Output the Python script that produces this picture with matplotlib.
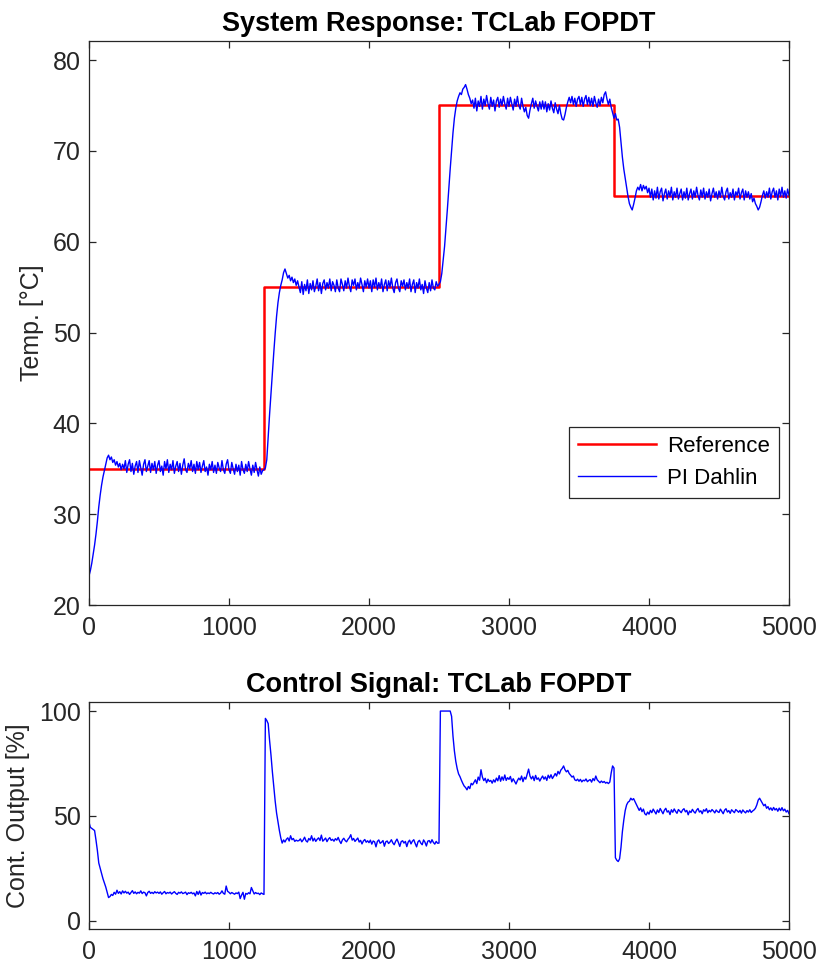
#!/usr/bin/env python3

import matplotlib as mpl
import matplotlib.pyplot as plt
import numpy as np

# setpoint steps (time [s], value [degC])
refTimes = [0, 1250, 2500, 3750, 5000]
refValues = [35, 55, 75, 65, 65]

sampleStep = 10  # seconds between samples

# measured temperature, PI Dahlin controller, one value every 10 s
temperature = [
	23.2, 23.8, 24.6, 25.6, 26.6, 27.8, 29.2, 30.8, 32.1, 33.2, 34.1, 34.8, 35.5, 36.2, 36.5, 36.0, 36.3, 35.7, 36.0, 35.4, 35.8, 35.2, 35.6, 34.9, 35.5,
	35.0, 35.9, 34.6, 35.5, 36.0, 34.7, 35.6, 34.4, 35.3, 35.8, 34.6, 35.9, 35.1, 34.3, 35.5, 36.0, 34.7, 35.3, 35.9, 34.6, 35.6, 34.9, 35.8, 34.5, 35.4,
	35.9, 34.7, 35.3, 34.3, 35.8, 35.0, 36.0, 34.6, 35.5, 34.9, 35.9, 34.5, 35.3, 35.8, 34.7, 35.6, 34.4, 35.4, 36.1, 34.9, 34.6, 35.6, 35.0, 35.9, 34.7,
	35.5, 34.5, 35.8, 34.9, 35.7, 34.6, 35.3, 35.9, 34.7, 35.2, 34.3, 35.5, 34.9, 35.8, 34.6, 35.4, 34.5, 35.7, 35.1, 34.7, 35.9, 34.9, 34.5, 35.5, 36.0,
	34.9, 34.5, 35.7, 35.0, 34.4, 35.5, 34.7, 35.4, 34.3, 35.8, 34.9, 34.5, 35.5, 34.7, 35.8, 35.0, 34.3, 35.4, 34.6, 35.7, 34.9, 34.2, 35.2, 34.4, 34.8,
	34.9, 35.1, 36.0, 38.5, 41.0, 43.3, 45.6, 47.8, 49.9, 51.8, 53.3, 54.4, 55.2, 55.8, 56.6, 57.0, 56.5, 56.0, 56.3, 55.7, 56.1, 55.5, 55.9, 55.2, 55.7,
	55.0, 54.4, 55.6, 54.2, 55.3, 54.6, 55.8, 54.3, 55.4, 54.7, 55.7, 54.5, 55.1, 55.9, 54.6, 55.5, 54.3, 55.4, 55.8, 54.7, 55.5, 54.9, 55.9, 54.6, 55.6,
	55.2, 54.5, 55.8, 54.9, 54.5, 55.9, 55.3, 54.6, 55.7, 54.9, 56.0, 55.1, 54.5, 55.8, 55.2, 55.9, 54.7, 55.5, 54.9, 56.0, 55.3, 54.5, 55.7, 55.0, 55.9,
	54.9, 55.7, 54.5, 55.8, 55.0, 56.0, 54.7, 55.5, 54.9, 55.9, 54.5, 55.3, 55.8, 54.6, 55.7, 55.0, 56.0, 54.9, 54.4, 55.5, 55.9, 54.9, 54.5, 55.7, 55.1,
	55.8, 54.7, 55.5, 54.9, 55.9, 54.5, 55.3, 55.8, 54.4, 55.5, 54.9, 55.9, 54.7, 55.3, 54.3, 55.7, 54.9, 54.4, 55.5, 54.6, 55.8, 54.9, 54.7, 55.6, 55.1,
	55.3, 55.6, 56.5, 58.0, 59.5, 61.5, 63.6, 65.8, 68.0, 70.0, 72.0, 73.6, 74.7, 75.5, 76.0, 76.4, 76.2, 76.8, 77.0, 77.3, 76.8, 76.2, 75.8, 75.2, 75.6,
	74.7, 75.8, 74.4, 75.5, 74.9, 76.0, 74.6, 75.7, 75.0, 76.1, 75.2, 74.6, 75.9, 74.9, 75.6, 74.4, 75.5, 75.9, 74.8, 75.7, 75.0, 76.0, 75.2, 74.6, 75.8,
	74.9, 75.9, 75.2, 74.5, 75.7, 74.9, 76.0, 75.0, 74.6, 75.8, 74.9, 74.3, 74.8, 73.9, 73.6, 74.5, 75.2, 75.8, 74.7, 75.5, 74.9, 74.4, 75.4, 74.6, 75.5,
	74.6, 75.4, 74.3, 75.2, 74.5, 75.5, 74.7, 74.2, 75.3, 74.6, 74.1, 75.0, 74.1, 73.5, 73.4, 74.0, 74.8, 75.4, 75.9, 75.3, 76.0, 75.1, 75.8, 74.9, 75.7,
	76.0, 75.1, 75.9, 74.9, 75.7, 76.1, 75.1, 75.9, 75.0, 75.8, 74.9, 76.0, 75.3, 74.8, 75.7, 75.0, 75.9, 75.3, 76.2, 76.5, 75.7, 75.1, 75.7, 74.8, 74.2,
	73.6, 74.1, 73.4, 73.5, 72.6, 71.0, 69.3, 68.0, 67.0, 66.0, 65.0, 64.2, 63.8, 63.5, 64.1, 64.8, 65.6, 66.0, 65.7, 66.3, 65.6, 66.2, 65.8, 66.1, 65.4,
	65.9, 64.9, 65.8, 64.6, 65.6, 64.8, 66.0, 64.7, 65.5, 65.9, 64.5, 65.3, 65.8, 64.7, 65.6, 65.0, 66.0, 64.6, 65.5, 64.9, 65.9, 64.7, 65.3, 65.8, 64.6,
	65.5, 64.8, 65.9, 64.6, 65.3, 65.8, 64.7, 65.6, 64.9, 66.0, 65.1, 64.6, 65.7, 64.9, 65.9, 64.7, 65.5, 64.9, 65.8, 64.5, 65.3, 65.9, 64.9, 65.5, 64.7,
	65.6, 64.9, 66.0, 65.0, 64.6, 65.5, 65.9, 64.7, 65.4, 64.9, 65.8, 64.6, 65.5, 65.1, 65.9, 64.7, 65.4, 65.8, 64.6, 65.6, 64.9, 65.5, 64.7, 65.3, 64.4,
	64.8, 64.2, 63.9, 63.5, 63.8, 64.4, 65.1, 65.6, 64.8, 65.5, 64.9, 65.9, 64.7, 65.5, 65.9, 64.9, 65.6, 64.6, 65.8, 65.0, 66.0, 64.9, 65.6, 64.8, 65.8,
	65.1,
]

# controller output [%], same sampling
controlOutput = [
	47.0, 44.5, 44.0, 43.5, 43.0, 38.5, 33.5, 27.5, 25.0, 22.5, 20.0, 18.0, 16.0, 13.5, 11.0, 11.5, 12.5, 12.0, 13.5, 12.6, 14.5, 13.0, 13.8, 12.7, 14.2,
	13.2, 14.0, 13.1, 13.6, 12.5, 13.4, 14.3, 13.0, 13.7, 12.8, 13.5, 13.1, 14.2, 12.9, 13.6, 13.3, 11.8, 13.4, 14.0, 13.0, 13.5, 12.9, 13.8, 13.2, 13.6,
	13.0, 13.7, 12.6, 13.3, 13.9, 12.8, 13.4, 13.1, 13.6, 12.7, 13.3, 13.8, 13.0, 12.5, 13.5, 13.1, 13.7, 12.9, 13.2, 13.6, 12.4, 13.3, 13.0, 13.5, 12.8,
	13.2, 11.8, 13.9, 12.5, 14.1, 12.2, 13.4, 13.0, 13.6, 12.8, 13.2, 12.9, 13.5, 13.0, 12.7, 13.3, 12.9, 13.4, 12.6, 13.1, 14.2, 13.0, 12.6, 16.5, 14.0,
	13.5, 12.8, 13.4, 13.0, 12.6, 13.2, 12.9, 13.6, 10.5, 12.2, 13.5, 10.2, 13.0, 12.6, 13.3, 12.8, 15.8, 14.2, 12.7, 13.4, 12.9, 13.1, 12.4, 13.2, 12.8,
	12.5, 96.5, 95.5, 94.0, 86.0, 79.0, 71.0, 64.0, 57.0, 51.3, 47.0, 43.0, 39.5, 37.0, 38.5, 37.5, 38.8, 39.5, 38.0, 40.5, 38.6, 39.2, 37.8, 38.4, 38.0,
	38.2, 39.0, 37.6, 38.5, 39.8, 38.1, 37.5, 39.2, 38.4, 40.5, 38.0, 39.3, 37.8, 38.8, 39.5, 38.2, 40.8, 37.9, 38.6, 39.4, 37.7, 38.9, 39.6, 38.3, 38.8,
	37.9, 39.1, 38.4, 39.7, 38.0, 36.8, 38.5, 39.3, 38.2, 37.6, 38.8, 39.6, 41.0, 38.4, 39.2, 37.8, 38.6, 39.4, 37.5, 38.3, 36.6, 38.0, 38.7, 37.4, 38.1,
	37.2, 38.4, 36.5, 38.0, 37.6, 35.2, 37.8, 38.5, 36.9, 37.4, 38.2, 35.5, 37.6, 38.0, 36.8, 37.5, 38.6, 37.1, 36.2, 37.8, 38.9, 37.3, 35.4, 37.7, 38.1,
	37.0, 37.8, 35.3, 37.5, 38.4, 36.6, 37.9, 38.6, 36.8, 35.2, 37.6, 38.3, 37.0, 36.2, 38.5, 37.4, 35.6, 37.9, 38.2, 37.0, 38.6, 37.3, 36.5, 37.8, 36.9,
	37.0, 100.0, 100.0, 100.0, 100.0, 100.0, 100.0, 100.0, 100.0, 97.5, 88.0, 81.0, 76.0, 72.5, 70.0, 68.7, 67.0, 65.5, 64.2, 63.5, 62.4, 64.0, 63.0, 65.5, 64.8,
	66.0, 67.2, 65.4, 68.5, 67.0, 72.0, 68.5, 66.8, 67.9, 65.8, 67.5, 66.4, 66.9, 65.6, 67.2, 66.1, 68.0, 66.7, 69.2, 66.5, 68.6, 67.0, 69.5, 66.9, 68.2,
	67.4, 68.8, 66.2, 67.7, 66.5, 65.2, 66.8, 68.0, 67.1, 69.0, 66.3, 68.4, 67.5, 70.0, 72.3, 69.0, 67.6, 68.9, 66.8, 69.3, 67.4, 68.1, 66.6, 67.9, 69.0,
	67.5, 68.6, 66.9, 69.4, 68.0, 69.6, 67.8, 68.9, 70.2, 69.0, 71.2, 70.0, 71.8, 72.6, 73.8, 72.0, 71.0, 71.7, 70.2, 69.4, 68.5, 69.0, 67.2, 66.8, 67.5,
	66.5, 67.4, 66.2, 67.0, 66.7, 67.6, 66.3, 66.9, 67.3, 66.1, 67.8, 66.8, 69.0, 67.2, 66.5, 65.8, 66.6, 65.9, 66.4, 65.6, 66.0, 65.4, 66.1, 70.5, 73.8,
	72.8, 30.0, 28.8, 28.2, 29.5, 35.0, 42.5, 48.0, 52.5, 55.2, 56.5, 57.0, 58.4, 57.6, 58.2, 56.8, 55.5, 54.0, 52.6, 53.8, 52.0, 53.2, 51.0, 50.4, 51.8,
	50.8, 52.6, 51.5, 53.2, 52.0, 50.9, 52.8, 51.6, 53.5, 52.2, 51.0, 52.7, 53.6, 51.8, 52.4, 50.6, 52.9, 51.7, 53.3, 52.1, 51.2, 53.0, 52.3, 51.5, 52.8,
	53.4, 51.9, 52.6, 50.5, 52.3, 51.6, 53.1, 52.0, 51.3, 52.7, 53.5, 51.8, 52.4, 51.0, 52.9, 52.2, 53.4, 51.5, 52.6, 51.9, 53.0, 52.3, 51.4, 52.8, 52.0,
	51.6, 53.2, 52.1, 51.0, 52.7, 53.4, 51.8, 52.5, 51.2, 52.9, 52.2, 51.5, 53.0, 52.4, 51.7, 52.6, 51.3, 52.8, 52.0, 51.4, 52.5, 51.8, 52.9, 51.6, 52.3,
	52.8, 53.6, 55.2, 57.5, 58.4, 57.2, 56.0, 54.8, 55.5, 53.6, 54.4, 52.9, 53.8, 52.6, 54.0, 52.8, 53.5, 52.2, 53.7, 52.5, 53.9, 52.4, 53.2, 51.8, 52.6,
	51.0,
]

xTicks = [0, 1000, 2000, 3000, 4000, 5000]
tempTicks = [20, 30, 40, 50, 60, 70, 80]
outTicks = [0, 50, 100]


def setupPlots():
	mpl.rcParams["font.family"] = ["Liberation Sans", "DejaVu Sans"]
	mpl.rcParams["font.size"] = 18
	mpl.rcParams["axes.linewidth"] = 0.9
	mpl.rcParams["axes.edgecolor"] = "#262626"
	mpl.rcParams["xtick.color"] = "#262626"
	mpl.rcParams["ytick.color"] = "#262626"
	mpl.rcParams["xtick.direction"] = "in"
	mpl.rcParams["ytick.direction"] = "in"
	mpl.rcParams["xtick.top"] = True
	mpl.rcParams["ytick.right"] = True
	mpl.rcParams["xtick.major.size"] = 5
	mpl.rcParams["ytick.major.size"] = 5
	mpl.rcParams["xtick.major.width"] = 0.9
	mpl.rcParams["ytick.major.width"] = 0.9
	mpl.rcParams["xtick.labelsize"] = 18
	mpl.rcParams["ytick.labelsize"] = 18


def styleAxes(ax, yTicks, yLim, yLabel, title):
	ax.set_xlim(0, 5000)
	ax.set_ylim(yLim)
	ax.set_xticks(xTicks)
	ax.set_yticks(yTicks)
	ax.set_ylabel(yLabel, color="#262626", labelpad=6)
	ax.set_title(title, fontsize=19.5, fontweight="bold", pad=7)
	ax.tick_params(axis="x", pad=8)
	ax.tick_params(axis="y", pad=6)


setupPlots()
times = np.arange(len(temperature)) * sampleStep

fig = plt.figure(figsize=(8.2, 9.67), dpi=100)
axTemp = fig.add_axes([0.1085, 0.3743, 0.8537, 0.5833])
axOut = fig.add_axes([0.1085, 0.0393, 0.8537, 0.2347])

axTemp.plot(refTimes, refValues, color="#ff0000", linewidth=1.8, drawstyle="steps-post", label="Reference")
axTemp.plot(times, temperature, color="#0000ff", linewidth=1.0, label="PI Dahlin")
styleAxes(axTemp, tempTicks, (20, 82.1), "Temp. [°C]", "System Response: TCLab FOPDT")
leg = axTemp.legend(loc="lower right", bbox_to_anchor=(0.985, 0.19), borderaxespad=0, fontsize=16,
	fancybox=False, framealpha=1, edgecolor="#262626", handlelength=3.5, handletextpad=0.5, borderpad=0.4)
leg.get_frame().set_linewidth(0.9)

axOut.plot(times, controlOutput, color="#0000ff", linewidth=1.0)
styleAxes(axOut, outTicks, (-4, 104.3), "Cont. Output [%]", "Control Signal: TCLab FOPDT")

fig.savefig("out.png", dpi=100)
